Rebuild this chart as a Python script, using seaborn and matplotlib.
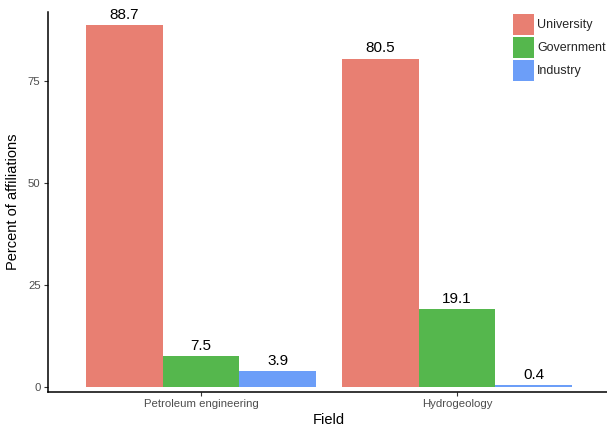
import matplotlib
matplotlib.use("Agg")
import matplotlib.pyplot as plt
import seaborn as sns
import pandas as pd
from matplotlib.patches import Patch

fields = ["Petroleum engineering", "Hydrogeology"]
affiliations = ["University", "Government", "Industry"]
university = [88.7, 80.5]
government = [7.5, 19.1]
industry = [3.9, 0.4]
colors = ["#E87F72", "#55B74D", "#6C9EF8"]

rows = []
for i, f in enumerate(fields):
    for a, vals in zip(affiliations, [university, government, industry]):
        rows.append({"Field": f, "Affiliation": a, "Percent": vals[i]})
df = pd.DataFrame(rows)

sns.set_style("white")
plt.rcParams["font.family"] = ["Liberation Sans", "DejaVu Sans"]

fig = plt.figure(figsize=(6.07, 4.28), dpi=100)
ax = fig.add_axes([47.5 / 607, 1 - 392 / 428, 563 / 607, (392 - 11.7) / 428])

sns.barplot(data=df, x="Field", y="Percent", hue="Affiliation",
            hue_order=affiliations, order=fields, palette=colors,
            saturation=1, width=0.9, gap=0, ax=ax, legend=False,
            errorbar=None, linewidth=0)

for c in ax.containers:
    ax.bar_label(c, fmt="%.1f", padding=2.5, fontsize=11, color="black")

ax.set_xlim(-0.6, 1.6)
ax.set_ylim(-1.23, 92.0)
ax.set_yticks([0, 25, 50, 75])
ax.set_yticklabels(["0", "25", "50", "75"])
ax.tick_params(axis="both", which="both", length=3, width=0.8, color="#333333",
               labelsize=8.2, labelcolor="#4D4D4D", pad=2, left=True, bottom=True)
for s in ["top", "right"]:
    ax.spines[s].set_visible(False)
for s in ["left", "bottom"]:
    ax.spines[s].set_color("black")
    ax.spines[s].set_linewidth(1.1)

ax.set_xlabel("Field", fontsize=10.5, color="black", labelpad=3)
ax.set_ylabel("Percent of affiliations", fontsize=10.5, color="black", labelpad=6)

handles = [Patch(facecolor=c, edgecolor="none") for c in colors]
fig.legend(handles, affiliations, loc="upper left",
           bbox_to_anchor=(513 / 607, 1 - 14 / 428), bbox_transform=fig.transFigure,
           frameon=False, fontsize=9, handlelength=1.68, handleheight=2.21,
           borderpad=0, borderaxespad=0, handletextpad=0.25, labelspacing=0.16)

fig.savefig("out.png", dpi=100)
